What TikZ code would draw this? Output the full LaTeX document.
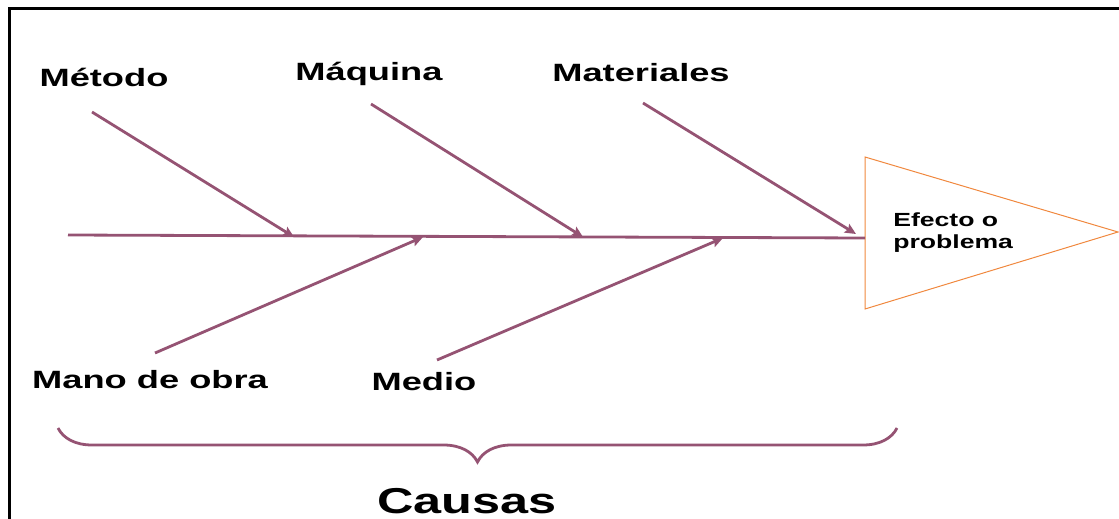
\documentclass[tikz,border=0pt]{standalone}
\usepackage{fontspec}
\setmainfont{Liberation Sans}
\usetikzlibrary{arrows.meta,decorations.pathreplacing}
\definecolor{fbpurple}{HTML}{955373}
\definecolor{fborange}{HTML}{F0883E}

\begin{document}
\begin{tikzpicture}[x=1pt, y=-1pt,
    cause/.style={font=\fontsize{25}{27}\selectfont\bfseries, xscale=1.45, inner sep=0pt},
    effect/.style={font=\fontsize{19}{22}\selectfont\bfseries, xscale=1.4, inner sep=0pt, align=left},
    bone/.style={draw=fbpurple, line width=2.8pt, -{Stealth[length=11pt,width=10pt,inset=2pt]}},
    spine/.style={draw=fbpurple, line width=2.8pt}
  ]
    \useasboundingbox (0,0) rectangle (1119,519);
    \draw[line width=3pt] (9,519) -- (9,9) -- (1119,9);

    % head of the fish
    \coordinate (tritop) at (865,157);
    \coordinate (tribot) at (865,309);
    \coordinate (tritip) at (1118,232);
    \draw[fborange, line width=1pt] (tritop) -- (tritip) -- (tribot) -- cycle;
    \node[effect, anchor=west] (efecto) at (893,233) {Efecto o\\problema};

    % spine
    \coordinate (tail) at (68,235);
    \coordinate (head) at (865,238);
    \draw[spine] (tail) -- (head);

    % causes
    \node[cause] (metodo) at (104,77) {Método};
    \node[cause] (maquina) at (369,74) {Máquina};
    \node[cause] (material) at (641,73) {Materiales};
    \node[cause] (mano) at (150,380) {Mano de obra};
    \node[cause] (medio) at (424,382) {Medio};

    \coordinate (metodo-s) at (92,112);   \coordinate (metodo-e) at (294,237);
    \coordinate (maquina-s) at (371,104); \coordinate (maquina-e) at (583,237);
    \coordinate (material-s) at (643,103); \coordinate (material-e) at (856,234);
    \coordinate (mano-s) at (155,353);    \coordinate (mano-e) at (423,237);
    \coordinate (medio-s) at (437,360);   \coordinate (medio-e) at (723,238);

    \draw[bone] (metodo-s) -- (metodo-e);
    \draw[bone] (maquina-s) -- (maquina-e);
    \draw[bone] (material-s) -- (material-e);
    \draw[bone] (mano-s) -- (mano-e);
    \draw[bone] (medio-s) -- (medio-e);

    % brace
    \coordinate (bl) at (58,428);
    \coordinate (br) at (897,428);
    \draw[fbpurple, line width=2.8pt, decorate,
      decoration={brace, mirror, amplitude=34pt}] (bl) -- (br);
    \node[cause, font=\fontsize{36}{38}\selectfont\bfseries, xscale=1.4/1.45] (causas) at (467,501) {Causas};
\end{tikzpicture}
\end{document}
